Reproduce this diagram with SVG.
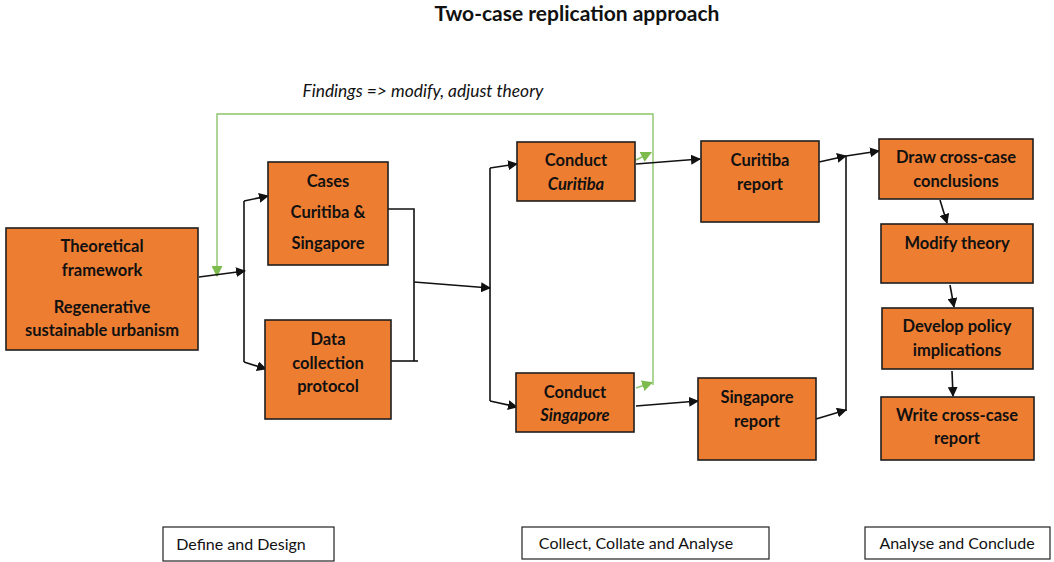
<svg xmlns="http://www.w3.org/2000/svg" width="1054" height="562" viewBox="0 0 1054 562">
  <defs>
    <style>
      .box { fill: #ED7D31; stroke: #1f1f1f; stroke-width: 1.6; }
      .lbl { fill: #fff; stroke: #222; stroke-width: 1.2; }
      .t { font-family: Lato, "Liberation Sans", sans-serif; font-weight: bold; font-size: 16.5px; fill: #111; text-anchor: middle; }
      .ti { font-style: italic; }
      .s { font-family: Lato, "Liberation Sans", sans-serif; font-size: 16px; fill: #111; text-anchor: middle; }
      .k { fill: none; stroke: #111; stroke-width: 1.6; }
      .g { fill: none; stroke: #8cc56b; stroke-width: 1.4; }
    </style>
    <marker id="ah" viewBox="0 0 10 10" refX="9" refY="5" markerWidth="10" markerHeight="10" markerUnits="userSpaceOnUse" orient="auto">
      <path d="M0,0 L10,5 L0,10 z" fill="#111"/>
    </marker>
    <marker id="ag" viewBox="0 0 10 10" refX="9" refY="5" markerWidth="11" markerHeight="11" markerUnits="userSpaceOnUse" orient="auto">
      <path d="M0,0 L10,5 L0,10 z" fill="#7dbb4f"/>
    </marker>
  </defs>

  <rect width="1054" height="562" fill="#fff"/>

  <text x="577" y="21" font-family="Lato, 'Liberation Sans', sans-serif" font-weight="bold" font-size="21" text-anchor="middle" fill="#111">Two-case replication approach</text>
  <text x="423" y="97" font-family="Lato, 'Liberation Sans', sans-serif" font-style="italic" font-size="17.4" text-anchor="middle" fill="#111">Findings =&gt; modify, adjust theory</text>

  <!-- connectors -->
  <g id="connectors">
    <!-- feedback loop back to the theory -->
    <path class="g" d="M653,385 L653,114 L217,114 L217,276" marker-end="url(#ag)"/>
    <path class="g" d="M636,160 L651,152.5" marker-end="url(#ag)"/>
    <path class="g" d="M636,388 L652,382.5" marker-end="url(#ag)"/>

    <!-- theory to design -->
    <path class="k" d="M244,201 L244,362"/>
    <path class="k" d="M199,277 L245,271" marker-end="url(#ah)"/>
    <path class="k" d="M244,201 L268,196" marker-end="url(#ah)"/>
    <path class="k" d="M244,362 L266,369" marker-end="url(#ah)"/>

    <!-- design to collection -->
    <path class="k" d="M388,209 L414,209 L414,361"/>
    <path class="k" d="M391,361 L418,361"/>
    <path class="k" d="M414,282 L490,288" marker-end="url(#ah)"/>
    <path class="k" d="M490,168 L490,401"/>
    <path class="k" d="M490,168 L517,164" marker-end="url(#ah)"/>
    <path class="k" d="M490,401 L517,407" marker-end="url(#ah)"/>

    <!-- conduct to reports -->
    <path class="k" d="M636,164 L700,159" marker-end="url(#ah)"/>
    <path class="k" d="M636,406 L698,401" stroke-width="1" marker-end="url(#ah)"/>

    <!-- reports to conclusions -->
    <path class="k" d="M819,162 L846,156" marker-end="url(#ah)"/>
    <path class="k" d="M816,419 L846,410" marker-end="url(#ah)"/>
    <path class="k" d="M846,156 L846,411"/>
    <path class="k" d="M846,156 L879,151" marker-end="url(#ah)"/>

    <!-- conclude chain -->
    <path class="k" d="M940,200 L947,223" marker-end="url(#ah)"/>
    <path class="k" d="M950,285 L954,307" marker-end="url(#ah)"/>
    <path class="k" d="M952,371 L953,396" marker-end="url(#ah)"/>
  </g>

  <g id="theory">
    <rect class="box" x="6" y="228" width="192" height="122"/>
    <text class="t" x="102" y="252">Theoretical</text>
    <text class="t" x="102" y="276">framework</text>
    <text class="t" x="102" y="313">Regenerative</text>
    <text class="t" x="102" y="336">sustainable urbanism</text>
  </g>

  <g id="cases">
    <rect class="box" x="268" y="162" width="120" height="103"/>
    <text class="t" x="328" y="187">Cases</text>
    <text class="t" x="328" y="218">Curitiba &amp;</text>
    <text class="t" x="328" y="249">Singapore</text>
  </g>

  <g id="protocol">
    <rect class="box" x="265" y="320" width="126" height="99"/>
    <text class="t" x="328" y="345">Data</text>
    <text class="t" x="328" y="369">collection</text>
    <text class="t" x="328" y="392">protocol</text>
  </g>

  <g id="conduct-curitiba">
    <rect class="box" x="517" y="142" width="118" height="59"/>
    <text class="t" x="576" y="166">Conduct</text>
    <text class="t ti" x="576" y="190">Curitiba</text>
  </g>

  <g id="conduct-singapore">
    <rect class="box" x="516" y="373" width="118" height="59"/>
    <text class="t" x="575" y="398">Conduct</text>
    <text class="t ti" x="575" y="421">Singapore</text>
  </g>

  <g id="curitiba-report">
    <rect class="box" x="701" y="141" width="118" height="81"/>
    <text class="t" x="760" y="166">Curitiba</text>
    <text class="t" x="760" y="190">report</text>
  </g>

  <g id="singapore-report">
    <rect class="box" x="698" y="378" width="118" height="82"/>
    <text class="t" x="757" y="403">Singapore</text>
    <text class="t" x="757" y="427">report</text>
  </g>

  <g id="draw-conclusions">
    <rect class="box" x="879" y="139" width="154" height="60"/>
    <text class="t" x="956" y="163">Draw cross-case</text>
    <text class="t" x="956" y="187">conclusions</text>
  </g>

  <g id="modify-theory">
    <rect class="box" x="881" y="224" width="152" height="59"/>
    <text class="t" x="957" y="249">Modify theory</text>
  </g>

  <g id="policy">
    <rect class="box" x="882" y="308" width="151" height="61"/>
    <text class="t" x="957" y="332">Develop policy</text>
    <text class="t" x="957" y="356">implications</text>
  </g>

  <g id="cross-case-report">
    <rect class="box" x="881" y="397" width="153" height="63"/>
    <text class="t" x="957" y="421">Write cross-case</text>
    <text class="t" x="957" y="444">report</text>
  </g>

  <g id="phase-define">
    <rect class="lbl" x="163" y="527" width="171" height="34"/>
    <text class="s" x="241" y="550">Define and Design</text>
  </g>
  <g id="phase-collect">
    <rect class="lbl" x="522" y="527" width="247" height="32" stroke="#777"/>
    <text class="s" x="636" y="549">Collect, Collate and Analyse</text>
  </g>
  <g id="phase-conclude">
    <rect class="lbl" x="865" y="527" width="185" height="32"/>
    <text class="s" x="957" y="549">Analyse and Conclude</text>
  </g>
</svg>
